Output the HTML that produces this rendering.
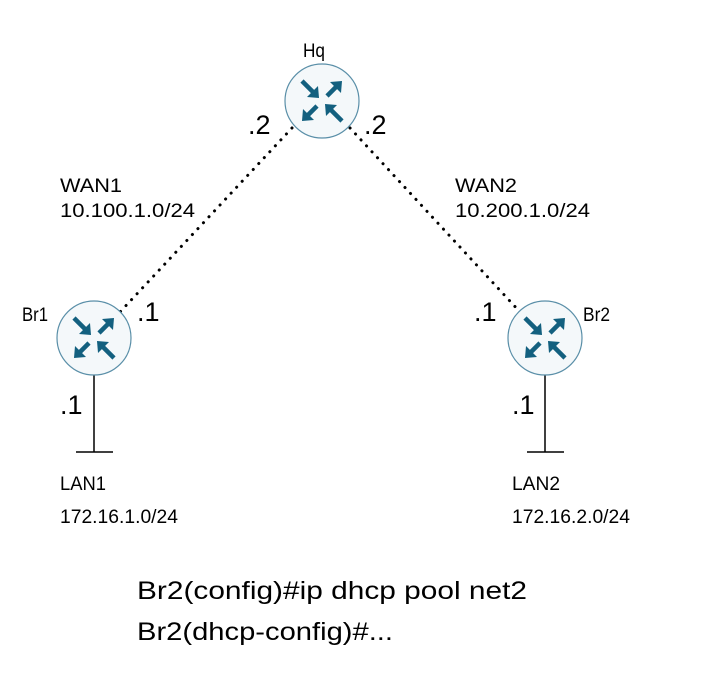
<!DOCTYPE html>
<html><head><style>
html,body{margin:0;padding:0;background:#fff;}
svg{display:block;font-family:"Liberation Sans",Arial,sans-serif;}
</style></head><body>
<svg width="718" height="681" viewBox="0 0 718 681">
<defs>
<g id="r">
<circle cx="0" cy="0" r="37" fill="#f4f8fa" stroke="#5a8fa8" stroke-width="1.2"/>
<g fill="#13607f" stroke="#13607f" stroke-width="4.5" stroke-linecap="butt">
<line x1="-20" y1="-20" x2="-8" y2="-8"/>
<polygon points="-3,-3 -4,-15 -15,-4" stroke="none"/>
<line x1="5" y1="-5" x2="15" y2="-15"/>
<polygon points="20,-20 8,-19 19,-8" stroke="none"/>
<line x1="-5" y1="5" x2="-15" y2="15"/>
<polygon points="-20,20 -8,19 -19,8" stroke="none"/>
<line x1="20" y1="20" x2="8" y2="8"/>
<polygon points="3,3 4,15 15,4" stroke="none"/>
</g>
</g>
</defs>
<g stroke="#000" stroke-width="3" stroke-dasharray="0.1 8" stroke-linecap="round">
<line x1="292" y1="128" x2="120" y2="312"/>
<line x1="350" y1="128" x2="520" y2="312"/>
</g>
<g stroke="#000" stroke-width="1.5">
<line x1="94" y1="375" x2="94" y2="452"/>
<line x1="76" y1="452" x2="113" y2="452"/>
<line x1="545" y1="375" x2="545" y2="452"/>
<line x1="527" y1="452" x2="564" y2="452"/>
</g>
<use href="#r" x="322" y="101"/>
<use href="#r" x="94" y="338"/>
<use href="#r" x="545" y="338"/>
<g fill="#000" font-size="19" lengthAdjust="spacingAndGlyphs">
<text x="303" y="57" textLength="22" lengthAdjust="spacingAndGlyphs">Hq</text>
<text x="22" y="321" textLength="26" lengthAdjust="spacingAndGlyphs">Br1</text>
<text x="583" y="321" textLength="27" lengthAdjust="spacingAndGlyphs">Br2</text>
<text x="60" y="192" textLength="62" lengthAdjust="spacingAndGlyphs">WAN1</text>
<text x="60" y="217" textLength="135" lengthAdjust="spacingAndGlyphs">10.100.1.0/24</text>
<text x="455" y="192" textLength="62" lengthAdjust="spacingAndGlyphs">WAN2</text>
<text x="455" y="217" textLength="135" lengthAdjust="spacingAndGlyphs">10.200.1.0/24</text>
<text x="60" y="490" textLength="46" lengthAdjust="spacingAndGlyphs">LAN1</text>
<text x="60" y="523" textLength="118" lengthAdjust="spacingAndGlyphs">172.16.1.0/24</text>
<text x="512" y="490" textLength="48" lengthAdjust="spacingAndGlyphs">LAN2</text>
<text x="512" y="523" textLength="118" lengthAdjust="spacingAndGlyphs">172.16.2.0/24</text>
</g>
<g fill="#000" font-size="27">
<text x="248" y="134">.2</text>
<text x="364" y="134">.2</text>
<text x="137" y="321">.1</text>
<text x="474" y="321">.1</text>
<text x="60" y="414">.1</text>
<text x="512" y="414">.1</text>
</g>
<g fill="#000" font-size="25">
<text x="137" y="599" textLength="390" lengthAdjust="spacingAndGlyphs">Br2(config)#ip dhcp pool net2</text>
<text x="137" y="640" textLength="256" lengthAdjust="spacingAndGlyphs">Br2(dhcp-config)#...</text>
</g>
</svg>
</body></html>
